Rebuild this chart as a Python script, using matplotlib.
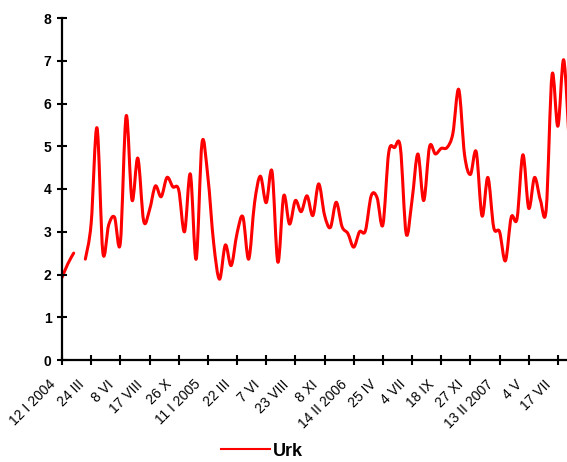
import matplotlib
matplotlib.use("Agg")
import matplotlib.pyplot as plt
import numpy as np
from matplotlib.path import Path
from matplotlib.patches import PathPatch
from matplotlib.lines import Line2D
from matplotlib.transforms import ScaledTranslation

plt.rcParams['font.family'] = ['Liberation Sans', 'DejaVu Sans']

# one value every 2 weeks, NaN = missing sample
urk = [1.93, 2.25, 2.5, np.nan, 2.36, 3.2, 5.43, 2.52, 3.16, 3.34,
       2.74, 5.71, 3.74, 4.72, 3.25, 3.51, 4.07, 3.82, 4.27, 4.05,
       3.98, 3.0, 4.35, 2.36, 5.08, 4.29, 2.73, 1.89, 2.69, 2.21,
       2.96, 3.35, 2.36, 3.67, 4.3, 3.68, 4.41, 2.29, 3.84, 3.18,
       3.73, 3.47, 3.84, 3.38, 4.12, 3.39, 3.1, 3.69, 3.12, 2.96,
       2.64, 3.0, 3.02, 3.84, 3.8, 3.16, 4.85, 4.97, 4.97, 2.95,
       3.74, 4.82, 3.73, 4.99, 4.82, 4.95, 4.97, 5.3, 6.33, 4.8,
       4.34, 4.87, 3.37, 4.27, 3.1, 3.0, 2.32, 3.34, 3.31, 4.8,
       3.55, 4.27, 3.74, 3.53, 6.67, 5.47, 7.02, 4.9]

tick_labels = ["12 I 2004", "24 III", "8 VI", "17 VIII", "26 X", "11 I 2005",
               "22 III", "7 VI", "23 VIII", "8 XI", "14 II 2006", "25 IV",
               "4 VII", "18 IX", "27 XI", "13 II 2007", "4 V", "17 VII"]
label_step = 5


def smooth_path(xs, ys):
    # Catmull-Rom style bezier like a spreadsheet "smoothed line"
    verts = [(xs[0], ys[0])]
    codes = [Path.MOVETO]
    n = len(xs)
    for i in range(n - 1):
        a = i - 1 if i > 0 else i
        d = i + 2 if i + 2 < n else i + 1
        c1 = (xs[i] + (xs[i + 1] - xs[a]) / 6, ys[i] + (ys[i + 1] - ys[a]) / 6)
        c2 = (xs[i + 1] - (xs[d] - xs[i]) / 6, ys[i + 1] - (ys[d] - ys[i]) / 6)
        verts += [c1, c2, (xs[i + 1], ys[i + 1])]
        codes += [Path.CURVE4] * 3
    return Path(verts, codes)


fig = plt.figure(figsize=(5.67, 4.62), dpi=100)
ax = fig.add_axes([62 / 567, 1 - 360 / 462, 1 - 62 / 567, (360 - 18) / 462])

y = np.array(urk, dtype=float)
x = np.arange(len(y))
ok = ~np.isnan(y)
# split into runs without gaps
runs = []
cur = []
for i in range(len(y)):
    if ok[i]:
        cur.append(i)
    elif cur:
        runs.append(cur)
        cur = []
if cur:
    runs.append(cur)

for r in runs:
    p = smooth_path(x[r].astype(float), y[r])
    ax.add_patch(PathPatch(p, fill=False, edgecolor='#ff0000', lw=2.2,
                           capstyle='round', joinstyle='round'))

ax.set_xlim(0, (567 - 62) / 29.17 * label_step)
ax.set_ylim(0, 8)
ax.set_yticks(range(0, 9))
ax.set_xticks(np.arange(len(tick_labels)) * label_step)
ax.set_xticklabels(tick_labels, rotation=45, ha='right', va='top', fontsize=10)

for s in ['top', 'right']:
    ax.spines[s].set_visible(False)
for s in ['left', 'bottom']:
    ax.spines[s].set_linewidth(1.6)
    ax.spines[s].set_clip_on(False)
ax.tick_params(axis='both', direction='inout', length=7, width=1.5, color='black')
ax.tick_params(axis='y', pad=4, labelsize=10)
ax.tick_params(axis='x', pad=9)
for t in ax.get_yticklabels():
    t.set_fontweight('bold')
shift = ScaledTranslation(-0.04, 0, fig.dpi_scale_trans)
for t in ax.get_xticklabels():
    t.set_transform(t.get_transform() + shift)

handle = Line2D([], [], color='#ff0000', lw=1.5)
fig.legend([handle], ["Urk"], loc='center', bbox_to_anchor=(0.462, 1 - 451 / 462),
           frameon=False, handlelength=2.7, handletextpad=0.2,
           prop={'weight': 'bold', 'size': 13})

fig.savefig("out.png", dpi=100)
